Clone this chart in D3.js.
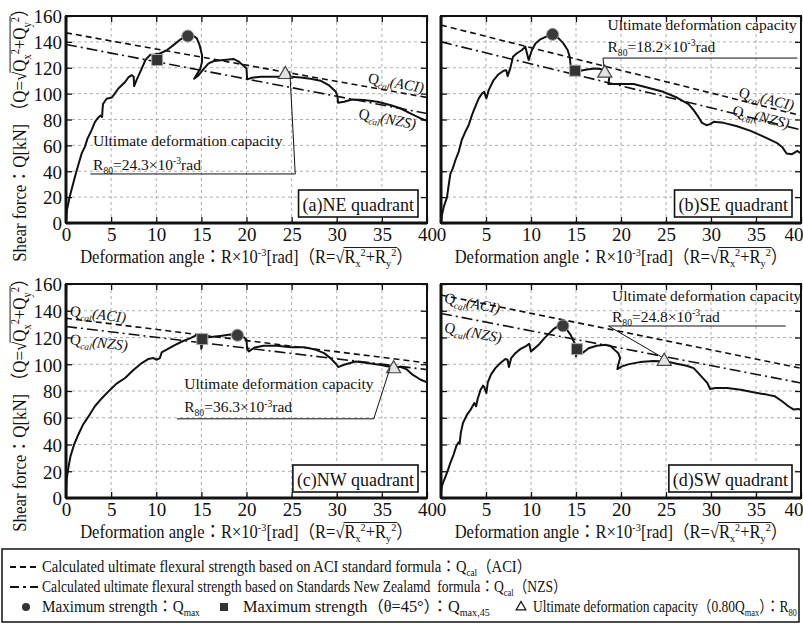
<!DOCTYPE html>
<html>
<head>
<meta charset="utf-8">
<script src="https://cdn.jsdelivr.net/npm/d3@7"></script>
<style>
  html, body { margin: 0; padding: 0; background: #fff; }
  svg { display: block; }
  text { font-family: 'Liberation Serif', 'Times New Roman', 'Noto Sans CJK JP', serif; fill: #111; white-space: pre; }
</style>
</head>
<body>
<svg id="chart" width="803" height="624"></svg>
<script>
// ---- Load–deformation envelopes, [R (×10^-3 rad), Q (kN)] ----
const curveNE = [[0,0],[0.1,10],[0.4,20],[0.7,28],[1.0,36],[1.2,41],[1.45,47],[1.75,54],[2.1,59],[2.37,65],
  [2.85,72],[3.2,78],[3.5,81],[3.8,83],[4.0,82],[4.05,88],[4.1,92],[4.5,96],[5.07,97],[5.3,99],[5.8,104],
  [6.55,109],[6.9,112.5],[7.3,114.3],[7.5,113],[7.55,105.8],[7.85,111],[8.4,119.5],[8.8,126],[9.3,129.8],
  [9.8,130.3],[10.4,131],[11.2,133.7],[11.9,137.5],[12.7,142],[13.3,144.5],[14.0,145.3],[14.5,142.7],
  [14.8,137.5],[15.07,129.8],[15.07,124.6],[14.9,119.5],[14.5,115],[14.2,111.5],[14.7,114.3],[15.3,119.5],
  [15.8,123.4],[16.4,125.2],[17.5,126],[18.6,126.7],[19.1,125],[19.6,122],[20,119.5],[20.07,111],[20.6,112.3],
  [21.6,113],[23.4,113],[24.9,113],[26,112.5],[27.1,111.5],[28.2,110],[29.1,106.6],[29.9,101.4],[30.07,98],
  [30.15,93],[30.8,93.7],[31.7,95.5],[33,95],[34.5,93.7],[36,91],[37.1,88.5],[38.2,84.6],[39.3,80.8],[40,79]];

const curveSE = [[0,0],[0.1,6],[0.3,12.4],[0.67,20],[0.85,29],[1.04,38],[1.3,42],[1.6,48.5],[1.96,55],[2.3,64],
  [2.7,70.5],[3.07,75.6],[3.44,83.4],[3.8,89.8],[4.2,96.3],[4.55,100],[4.8,101.4],[5.04,96.3],[5.3,102.7],
  [5.85,110.5],[6.4,115],[6.96,117.7],[7.26,118],[7.4,113.5],[7.7,119.5],[8.0,128.5],[8.4,131],[9.0,133.7],
  [9.37,136.3],[9.74,126],[10.1,133.7],[10.5,138.8],[11.04,142],[11.8,144.5],[12.4,145.8],[13.07,142.7],
  [13.6,138.8],[14.07,133.7],[14.3,128.5],[14.4,122],[14.8,117.7],[15.5,117.7],[16.2,118.7],[17.1,119.5],
  [17.7,119],[18.26,117.7],[18.6,115.6],[18.7,112.5],[18.6,107.4],[19.9,107.4],[21.4,107.4],[22.9,104.8],
  [24.7,101.4],[26.2,97],[27.5,91.9],[28.07,87.2],[28.6,82],[29,77.4],[29.5,75.6],[29.9,76.4],[30.3,78.2],
  [31.4,77.4],[32.9,74.8],[34.4,71.2],[35.9,66.6],[37.3,62],[37.9,58.8],[38.4,53.7],[39,53.2],[39.6,55.7],[40,53.7]];

const curveNW = [[0,0],[0.07,14],[0.26,22.6],[0.5,31.3],[0.9,40],[1.37,47.5],[1.9,55],[2.5,61],[3.2,68.6],
  [4.0,74.8],[4.9,81],[5.6,85.5],[6.55,89.7],[7.5,95.9],[8.4,100.9],[9.1,103.9],[9.7,104.6],[10.0,103.4],
  [10.26,104.1],[10.4,104.6],[10.6,108.8],[11,110.3],[11.9,113.8],[12.85,117],[13.8,119.5],[14.5,122],
  [14.9,121],[15.0,111.5],[15.2,119.5],[15.8,120.2],[17.1,121.2],[18.2,122.2],[19.04,121.7],[19.7,120.2],
  [20,118.3],[20.07,111.3],[20.26,109.6],[20.9,112.5],[21.9,113.8],[23.4,113.8],[24.9,112.8],[26.4,112.8],
  [27.7,110.8],[28.6,108.3],[29.3,104.6],[29.9,100.4],[30.15,97.9],[30.8,99.6],[32.1,102.1],[33.4,100.9],
  [34.9,99.4],[36,97.9],[37.1,97.9],[37.7,96.4],[38.4,92.2],[39.3,88.4],[40,86.5]];

const curveSW = [[0,4],[0.1,8.9],[0.3,12.7],[0.67,18.9],[1.04,26.3],[1.4,32.5],[1.7,38.8],[1.96,41.7],[2.07,40.7],
  [2.2,48.7],[2.44,56.1],[2.9,62.4],[3.3,66.1],[3.7,71],[3.9,68.6],[4.07,74],[4.4,81],[4.67,84],[4.8,83],
  [5.04,78.5],[5.2,86.5],[5.55,92.2],[6.04,97.1],[6.6,100.9],[7.15,103.9],[7.4,103.4],[7.55,97.9],[7.8,104.6],
  [8.26,108.3],[8.8,111.3],[9.5,113.8],[9.8,115.3],[10.0,109.6],[10.3,111.3],[10.85,114.5],[11.4,118.8],
  [11.96,122.7],[12.5,126.2],[13.07,128.7],[13.55,128.7],[14,125.7],[14.4,122],[14.7,117.8],[14.9,115],
  [15.0,106],[15.2,110],[15.8,108.8],[16.4,112],[17.3,113.8],[18.3,114.5],[18.8,113.8],[19.2,111.3],
  [19.7,108.3],[19.9,104.6],[19.7,99.6],[19.6,96.4],[20.1,98.4],[20.9,100.1],[22.1,101.6],[23.6,102.4],
  [25.1,102.1],[26.2,100.4],[27.3,98.9],[28.07,97.1],[28.6,93.4],[29.2,88.9],[29.6,86],[29.9,81.5],[30.5,82.2],
  [31.8,82.2],[33.3,81],[34.7,79],[36.2,77.3],[37.1,76],[37.9,72.3],[38.6,68.6],[39.2,66.1],[39.7,66.6],[40,65.8]];

// ---- Calculated strengths: Q at R = 0 and R = 40 ----
const aciLines = [[147,97], [153,83], [134.4,101], [151.8,97]];
const nzsLines = [[138,84.6], [140,72], [128.2,96], [138,86]];

// ---- Characteristic points [R, Q] ----
const qmaxPts  = [[13.5,144.5], [12.4,145.8], [19.0,121.7], [13.55,128.7]];
const q45Pts   = [[10.1,126], [14.9,117.7], [15.1,118.8], [15.1,111.3]];
const r80Pts   = [[24.3,115.6], [18.2,116.6], [36.3,97.4], [24.8,103.0]];
const r80Values = ["24.3", "18.2", "36.3", "24.8"];

const panelTags = ["(a)NE quadrant", "(b)SE quadrant", "(c)NW quadrant", "(d)SW quadrant"];
const curves = [curveNE, curveSE, curveNW, curveSW];

const xTicks = [0,5,10,15,20,25,30,35,40];
const yTicks = [0,20,40,60,80,100,120,140,160];

// ---- layout ----
const frames = [
  {l:66,  r:427, t:16,  b:223, yLabels:true,  yMid:131},
  {l:441, r:801, t:16,  b:223, yLabels:false},
  {l:66,  r:427, t:284, b:498, yLabels:true,  yMid:401},
  {l:441, r:801, t:284, b:498, yLabels:false}
];
// label placement for the calculated lines: start R and vertical offset (px) from the line
const calcLabelPos = [
  {aci:[33.4,-4], nzs:[32.35,18]},
  {aci:[33.0,-3], nzs:[32.3,2]},
  {aci:[0.4,-3],  nzs:[0.4,17]},
  {aci:[0.3,7],   nzs:[0.3,18]}
];
// annotation blocks: text start, baselines, underline, leader end (data units)
const annot = [
  {tx:3.0, y1:59.5, y2:41, ux1:2.7, ux2:25.4, uy:37.9, lx:24.8, ly:117.5},
  {tx:18.5, y1:149, y2:132, ux1:18.0, ux2:39.6, uy:127.5, lx:18.1, ly:121},
  {tx:13.1, y1:81.5, y2:64, ux1:12.3, ux2:34.1, uy:59.2, lx:35.9, ly:97},
  {tx:19.0, y1:147.5, y2:131.5, ux1:18.6, ux2:38.3, uy:128.6, lx:24.5, ly:105.5}
];

const svg = d3.select("#chart");
svg.append("rect").attr("width",803).attr("height",624).attr("fill","#fff");

// rich text: parts = [string, kind('', 'sup', 'sub'), flags('i' italic, 'o' overline)]
// when len is given, the text is condensed horizontally to that width
function rich(g, x, y, parts, fs, anchor, len) {
  const grp = g.append("g");
  const t = grp.append("text").attr("x", x).attr("y", y).attr("font-size", fs)
    .attr("text-anchor", anchor || "start");
  let shift = 0, idx = 0;
  const over = [];
  parts.forEach(p => {
    const s = p[0], kind = p[1] || "", flags = p[2] || "";
    const target = kind === "sup" ? -0.38 * fs : kind === "sub" ? 0.25 * fs : 0;
    const ts = t.append("tspan").text(s);
    if (target - shift !== 0) ts.attr("dy", target - shift);
    shift = target;
    if (kind) ts.attr("font-size", fs * 0.62);
    if (flags.includes("i")) ts.attr("font-style", "italic");
    if (flags.includes("o")) over.push([idx, idx + s.length - 1]);
    idx += s.length;
  });
  if (len) {
    const w = t.node().getBBox().width;
    grp.attr("transform", `translate(${x},0) scale(${len / w},1) translate(${-x},0)`);
  }
  if (over.length) {
    const n = t.node();
    const a = over[0][0], b = over[over.length - 1][1];
    const x1 = n.getStartPositionOfChar(a).x - 1;
    const x2 = n.getEndPositionOfChar(b).x + 1;
    grp.append("line").attr("x1", x1).attr("x2", x2)
      .attr("y1", y - fs * 0.86).attr("y2", y - fs * 0.86)
      .attr("stroke", "#111").attr("stroke-width", 1);
  }
  return t;
}

const xTitleParts = [["Deformation angle：R×10"],["-3","sup"],["[rad]（R="],["√"],
  ["R","","o"],["x","sub","o"],["2","sup","o"],["+R","","o"],["y","sub","o"],["2","sup","o"],["）"]];
const yTitleParts = [["Shear force：Q[kN] （Q="],["√"],
  ["Q","","o"],["x","sub","o"],["2","sup","o"],["+Q","","o"],["y","sub","o"],["2","sup","o"],["）"]];

frames.forEach((f, i) => {
  const x = d3.scaleLinear().domain([0,40]).range([f.l, f.r]);
  const y = d3.scaleLinear().domain([0,160]).range([f.b, f.t]);
  const g = svg.append("g");
  const clipId = "clip" + i;
  svg.append("clipPath").attr("id", clipId).append("rect")
    .attr("x", f.l).attr("y", f.t).attr("width", f.r - f.l).attr("height", f.b - f.t);

  // grid
  const grid = g.append("g").attr("stroke", "#9a9a9a").attr("stroke-width", 0.8).attr("stroke-dasharray", "3,3");
  xTicks.slice(1, -1).forEach(v => grid.append("line").attr("x1", x(v)).attr("x2", x(v)).attr("y1", f.t).attr("y2", f.b));
  yTicks.slice(1, -1).forEach(v => grid.append("line").attr("x1", f.l).attr("x2", f.r).attr("y1", y(v)).attr("y2", y(v)));

  // axes with inward ticks
  const ax = (gen, tr) => {
    const a = g.append("g").attr("transform", tr).call(gen);
    a.select(".domain").remove();
    a.selectAll(".tick line").attr("stroke", "#111").attr("stroke-width", 1.3);
    a.selectAll("text").attr("font-size", 19).attr("fill", "#111");
    return a;
  };
  const bx = ax(d3.axisBottom(x).tickValues(xTicks).tickSize(-6).tickPadding(5).tickFormat(d3.format("d")), `translate(0,${f.b})`);
  // keep the last label of the right-hand panels inside the page
  if (f.r > 790) bx.selectAll(".tick text").filter(d => d === 40).attr("text-anchor", "end").attr("x", 803 - f.r);
  ax(d3.axisTop(x).tickValues(xTicks).tickSize(-6).tickFormat(""), `translate(0,${f.t})`);
  const la = ax(d3.axisLeft(y).tickValues(yTicks).tickSize(-6).tickPadding(4).tickFormat(f.yLabels ? d3.format("d") : ""), `translate(${f.l},0)`);
  la.selectAll("text").attr("dy", "0.36em");
  ax(d3.axisRight(y).tickValues(yTicks).tickSize(-6).tickFormat(""), `translate(${f.r},0)`);

  const plot = g.append("g").attr("clip-path", `url(#${clipId})`);

  // calculated strength lines
  const lineGen = d3.line().x(d => x(d[0])).y(d => y(d[1]));
  const aci = [[0, aciLines[i][0]], [40, aciLines[i][1]]];
  const nzs = [[0, nzsLines[i][0]], [40, nzsLines[i][1]]];
  plot.append("path").attr("d", lineGen(aci)).attr("fill", "none").attr("stroke", "#111")
    .attr("stroke-width", 1.6).attr("stroke-dasharray", "6,4");
  plot.append("path").attr("d", lineGen(nzs)).attr("fill", "none").attr("stroke", "#111")
    .attr("stroke-width", 1.6).attr("stroke-dasharray", "11,4,2,4");

  // envelope curve
  plot.append("path").attr("d", lineGen(curves[i])).attr("fill", "none").attr("stroke", "#111")
    .attr("stroke-width", 2).attr("stroke-linejoin", "round");

  // labels on the calculated lines
  const lineAt = (ln, r) => ln[0][1] + (ln[1][1] - ln[0][1]) * r / 40;
  [["aci", aci, "(ACI)"], ["nzs", nzs, "(NZS)"]].forEach(([k, ln, tag]) => {
    const pos = calcLabelPos[i][k];
    const ang = Math.atan2(y(ln[1][1]) - y(ln[0][1]), x(40) - x(0)) * 180 / Math.PI;
    const lg = g.append("g").attr("transform",
      `translate(${x(pos[0])},${y(lineAt(ln, pos[0])) + pos[1]}) rotate(${ang})`);
    rich(lg, 0, 0, [["Q"], ["cal", "sub", "i"], [tag, "", "i"]], 15);
  });

  // annotation: ultimate deformation capacity
  const an = annot[i];
  rich(g, x(an.tx), y(an.y1), [["Ultimate deformation capacity"]], 15.5);
  rich(g, x(an.tx), y(an.y2), [["R"], ["80", "sub"], ["=" + r80Values[i] + "×10"], ["-3", "sup"], ["rad"]], 15.5);
  g.append("line").attr("x1", x(an.ux1)).attr("x2", x(an.ux2)).attr("y1", y(an.uy)).attr("y2", y(an.uy))
    .attr("stroke", "#111").attr("stroke-width", 1);
  const lStart = (i === 1 || i === 3) ? an.ux1 : an.ux2;
  g.append("line").attr("x1", x(lStart)).attr("y1", y(an.uy)).attr("x2", x(an.lx)).attr("y2", y(an.ly))
    .attr("stroke", "#111").attr("stroke-width", 1);

  // markers
  const [cx, cy] = qmaxPts[i];
  plot.append("circle").attr("cx", x(cx)).attr("cy", y(cy)).attr("r", 6)
    .attr("fill", "#3a3a3a").attr("stroke", "#9a9a9a").attr("stroke-width", 1);
  const [sx, sy] = q45Pts[i];
  plot.append("rect").attr("x", x(sx) - 5.5).attr("y", y(sy) - 5.5).attr("width", 11).attr("height", 11)
    .attr("fill", "#333").attr("stroke", "#aaa").attr("stroke-width", 1);
  const [tx, ty] = r80Pts[i];
  plot.append("path").attr("d", d3.symbol(d3.symbolTriangle, 85)())
    .attr("transform", `translate(${x(tx)},${y(ty) + 1})`)
    .attr("fill", "#e4e4e4").attr("stroke", "#444").attr("stroke-width", 1.2);

  // frame
  g.append("rect").attr("x", f.l).attr("y", f.t).attr("width", f.r - f.l).attr("height", f.b - f.t)
    .attr("fill", "none").attr("stroke", "#111").attr("stroke-width", 2);
  g.append("line").attr("x1", f.l).attr("x2", f.r).attr("y1", f.b).attr("y2", f.b).attr("stroke", "#111").attr("stroke-width", 3);
  g.append("line").attr("x1", f.l).attr("x2", f.l).attr("y1", f.t).attr("y2", f.b).attr("stroke", "#111").attr("stroke-width", 3);

  // panel tag box
  const tg = g.append("g");
  const tt = tg.append("text").attr("font-size", 18).attr("text-anchor", "end")
    .attr("x", f.r - 13).attr("y", f.b - 12).text(panelTags[i]);
  const bb = tt.node().getBBox();
  tg.insert("rect", "text").attr("x", bb.x - 4).attr("y", f.b - 33).attr("width", bb.width + 8).attr("height", 27)
    .attr("fill", "#fff").attr("stroke", "#111").attr("stroke-width", 1.6);

  // axis titles
  rich(g, (f.l + f.r) / 2, f.b + 40, xTitleParts, 18, "middle", 333);
  if (f.yLabels) {
    const yg = g.append("g").attr("transform", `translate(26,${f.yMid}) rotate(-90)`);
    rich(yg, 0, 0, yTitleParts, 18.5, "middle", 262);
  }
});

// ---- legend ----
const lg = svg.append("g");
lg.append("rect").attr("x", 2).attr("y", 549).attr("width", 797).attr("height", 73)
  .attr("fill", "none").attr("stroke", "#111").attr("stroke-width", 1.5);
lg.append("line").attr("x1", 10).attr("x2", 38).attr("y1", 567).attr("y2", 567)
  .attr("stroke", "#111").attr("stroke-width", 2).attr("stroke-dasharray", "6,4");
lg.append("line").attr("x1", 10).attr("x2", 38).attr("y1", 587).attr("y2", 587)
  .attr("stroke", "#111").attr("stroke-width", 2).attr("stroke-dasharray", "9,4,3,4");
lg.append("circle").attr("cx", 26).attr("cy", 607).attr("r", 4).attr("fill", "#333");
lg.append("rect").attr("x", 220).attr("y", 603).attr("width", 8).attr("height", 8).attr("fill", "#333");
lg.append("path").attr("d", d3.symbol(d3.symbolTriangle, 40)()).attr("transform", "translate(521,607)")
  .attr("fill", "none").attr("stroke", "#111").attr("stroke-width", 1.3);
rich(lg, 42, 572, [["Calculated ultimate flexural strength based on ACI standard formula：Q"], ["cal", "sub"], ["（ACI）"]], 16, "start", 490);
rich(lg, 42, 592, [["Calculated ultimate flexural strength based on Standards New Zealamd  formula：Q"], ["cal", "sub"], ["（NZS）"]], 16, "start", 525);
rich(lg, 42, 612, [["Maximum strength：Q"], ["max", "sub"]], 16, "start", 158);
rich(lg, 243, 612, [["Maximum strength（θ=45°）：Q"], ["max,45", "sub"]], 16, "start", 247);
rich(lg, 533, 612, [["Ultimate deformation capacity（0.80Q"], ["max", "sub"], ["）：R"], ["80", "sub"]], 16, "start", 264);
</script>
</body>
</html>
